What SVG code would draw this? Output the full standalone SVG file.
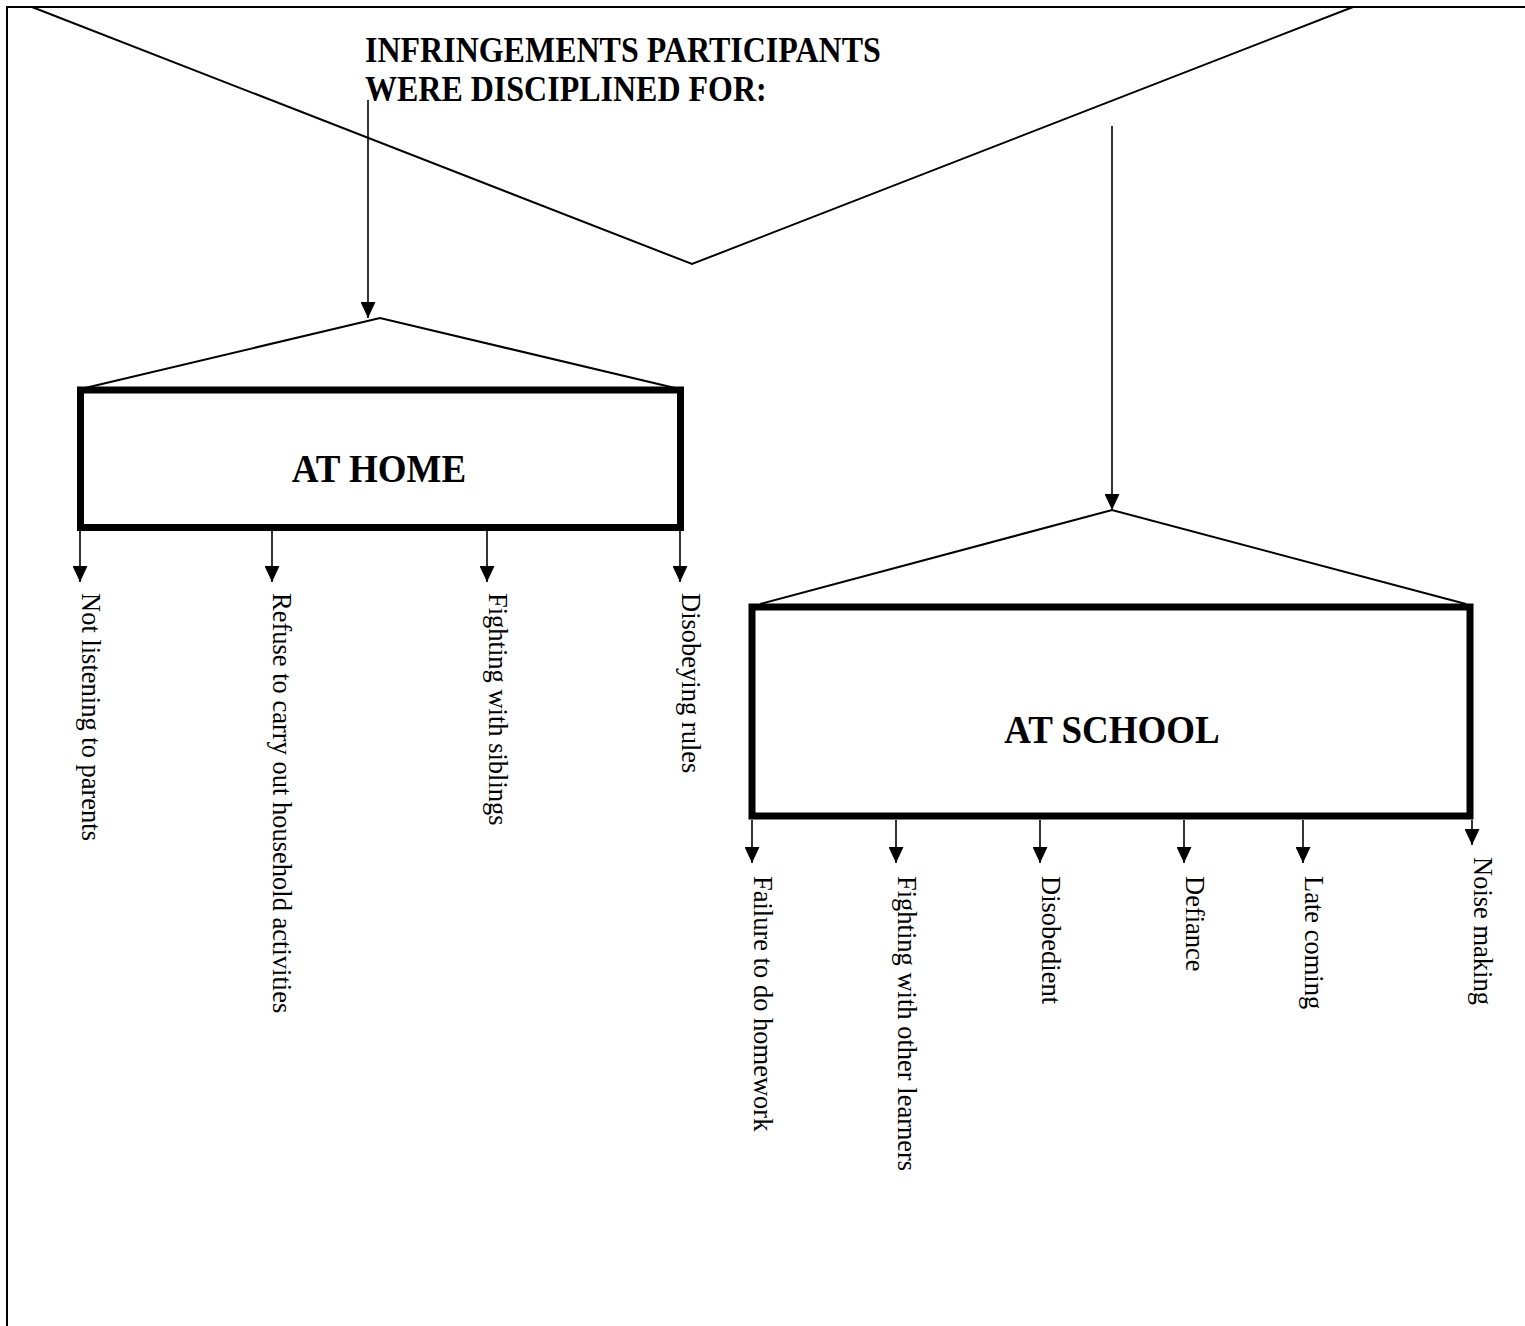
<svg xmlns="http://www.w3.org/2000/svg" width="1525" height="1326" viewBox="0 0 1525 1326">
<defs>
<marker id="ah" viewBox="0 0 16 15" refX="16" refY="7.5" markerWidth="16" markerHeight="15" markerUnits="userSpaceOnUse" orient="auto">
<path d="M0,0 L16,7.5 L0,15 z" fill="#000"/>
</marker>
<style>
.frame{stroke:#000;stroke-width:2;fill:none}
.v{stroke:#000;stroke-width:2;fill:none}
.roof{stroke:#000;stroke-width:2;fill:none}
.arr{stroke:#000;stroke-width:1.6;fill:none;marker-end:url(#ah)}
.box{fill:#fff;stroke:#000;stroke-width:7}
.title{font-family:"Liberation Serif","Times New Roman",serif;font-weight:bold;font-size:32px;fill:#000}
.head{font-family:"Liberation Serif","Times New Roman",serif;font-weight:bold;font-size:37px;fill:#000;text-anchor:middle}
.leaf{font-family:"Liberation Serif","Times New Roman",serif;font-size:26.5px;fill:#000}
</style>
</defs>
<rect width="1525" height="1326" fill="#fff"/>
<g id="frame">
<line class="frame" x1="6" y1="7" x2="1525" y2="7"/>
<line class="frame" x1="7" y1="6" x2="7" y2="1326"/>
</g>
<g id="connectors">
<polyline class="v" points="32,7 692,264 1353,7"/>
<polyline class="roof" points="85,388 380,318 675,388"/>
<polyline class="roof" points="760,604 1112,510 1466,604"/>
<line class="arr" x1="368" y1="100" x2="368" y2="318"/>
<line class="arr" x1="1112" y1="126" x2="1112" y2="510"/>
<line class="arr" x1="80" y1="531" x2="80" y2="582"/>
<line class="arr" x1="272" y1="531" x2="272" y2="582"/>
<line class="arr" x1="487" y1="531" x2="487" y2="582"/>
<line class="arr" x1="680" y1="531" x2="680" y2="582"/>
<line class="arr" x1="752" y1="820" x2="752" y2="863"/>
<line class="arr" x1="896" y1="820" x2="896" y2="863"/>
<line class="arr" x1="1040" y1="820" x2="1040" y2="863"/>
<line class="arr" x1="1184" y1="820" x2="1184" y2="863"/>
<line class="arr" x1="1303" y1="820" x2="1303" y2="863"/>
<line class="arr" x1="1472" y1="820" x2="1472" y2="845"/>
</g>
<g id="title">
<text class="title" transform="translate(365,62) scale(1,1.1)">INFRINGEMENTS PARTICIPANTS</text>
<text class="title" transform="translate(365,101) scale(1,1.1)">WERE DISCIPLINED FOR:</text>
</g>
<g id="at-home">
<rect class="box" x="80.5" y="390" width="600" height="137.5"/>
<text class="head" transform="translate(379,482) scale(1,1.1)" x="0" y="0">AT HOME</text>
</g>
<g id="at-school">
<rect class="box" x="752" y="607" width="718" height="209"/>
<text class="head" transform="translate(1112,743) scale(1,1.1)" x="0" y="0">AT SCHOOL</text>
</g>
<g id="leaf-not-listening"><text class="leaf" transform="translate(82,593) rotate(90)">Not listening to parents</text></g>
<g id="leaf-refuse"><text class="leaf" transform="translate(273,593) rotate(90)">Refuse to carry out household activities</text></g>
<g id="leaf-fighting-siblings"><text class="leaf" transform="translate(489,593) rotate(90)">Fighting with siblings</text></g>
<g id="leaf-disobeying"><text class="leaf" transform="translate(682,593) rotate(90)">Disobeying rules</text></g>
<g id="leaf-failure"><text class="leaf" transform="translate(754,876) rotate(90)">Failure to do homework</text></g>
<g id="leaf-fighting-learners"><text class="leaf" transform="translate(898,876) rotate(90)">Fighting with other learners</text></g>
<g id="leaf-disobedient"><text class="leaf" transform="translate(1042,876) rotate(90)">Disobedient</text></g>
<g id="leaf-defiance"><text class="leaf" transform="translate(1186,876) rotate(90)">Defiance</text></g>
<g id="leaf-late"><text class="leaf" transform="translate(1305,876) rotate(90)">Late coming</text></g>
<g id="leaf-noise"><text class="leaf" transform="translate(1474,857) rotate(90)">Noise making</text></g>
</svg>
